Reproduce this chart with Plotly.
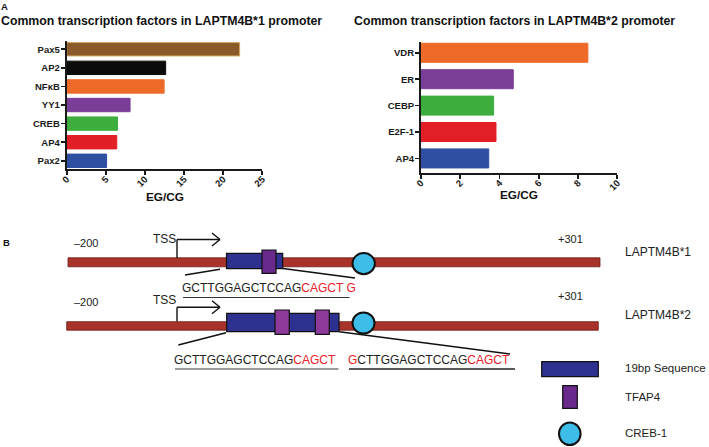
import plotly.graph_objects as go

W, H = 709, 447

# panel A: EG/CG ratios
tf_star1 = ["Pax5", "AP2", "NFκB", "YY1", "CREB", "AP4", "Pax2"]
egcg_star1 = [22.1, 12.65, 12.45, 8.1, 6.5, 6.4, 5.1]
ticks_star1 = [0, 5, 10, 15, 20, 25]

tf_star2 = ["VDR", "ER", "CEBP", "E2F-1", "AP4"]
egcg_star2 = [8.5, 4.7, 3.7, 3.82, 3.45]
ticks_star2 = [0, 2, 4, 6, 8, 10]

# panel B: sequence labels
seq_row1 = "GCTTGGAGCTCCAG"
seq_row1_red = "CAGCT G"
seq_unit = "GCTTGGAGCTCCAG"
seq_unit_red = "CAGCT"
legend_labels = ["19bp Sequence", "TFAP4", "CREB-1"]

ORANGE, PURPLE, GREEN, RED, BLUE = "#ee6a28", "#7a3e98", "#3dae3e", "#e21f26", "#2e4fa2"
colors_star1 = ["#8b5a2b", "#0b0b0b", ORANGE, PURPLE, GREEN, RED, BLUE]
edges_star1 = ["#d4a862", "#0b0b0b", ORANGE, PURPLE, GREEN, RED, BLUE]
colors_star2 = [ORANGE, PURPLE, GREEN, RED, BLUE]

FONT = "Liberation Sans, Arial, sans-serif"
AXC = "#1a1a1a"
SEQ_RED = "#e8202a"
GENE = "#a9322a"
BOX_BLUE = "#2e318f"
BOX_PURPLE = "#6a2a8c"
BOX_PURPLE2 = "#8d3a9b"
CREB = "#3dbde8"

fig = go.Figure()
fig.add_trace(go.Bar(x=egcg_star1, y=tf_star1, orientation="h",
                     marker=dict(color=colors_star1, line=dict(color=edges_star1, width=1)),
                     xaxis="x", yaxis="y", showlegend=False, hoverinfo="skip"))
fig.add_trace(go.Bar(x=egcg_star2, y=tf_star2, orientation="h",
                     marker=dict(color=colors_star2, line=dict(color=colors_star2, width=1)),
                     xaxis="x2", yaxis="y2", showlegend=False, hoverinfo="skip"))


# the schematic is laid out in page pixels; these convert to paper fractions
def px_x(v):
    return v / W


def px_y(v):
    return 1 - v / H


axis_common = dict(showgrid=False, zeroline=False, showline=True, linecolor=AXC, linewidth=2,
                   ticks="outside", ticklen=4, tickwidth=1.6, tickcolor=AXC, automargin=False,
                   tickfont=dict(family=FONT, size=9.5, color=AXC, weight="bold"))

fig.update_layout(
    width=W, height=H, margin=dict(l=0, r=0, t=0, b=0, pad=0), autosize=False,
    paper_bgcolor="white", plot_bgcolor="white", bargap=0.28, showlegend=False,
    xaxis=dict(domain=[px_x(66.7), px_x(262.3)], range=[0, 25], tickvals=ticks_star1,
               tickangle=-45, ticklabelstandoff=-5, anchor="y", **axis_common),
    yaxis=dict(domain=[px_y(169), px_y(40.7)], range=[6.44, -0.46], anchor="x",
               ticklabelstandoff=-1, **axis_common),
    xaxis2=dict(domain=[px_x(421), px_x(617.3)], range=[0, 10], tickvals=ticks_star2,
                tickangle=-45, ticklabelstandoff=-5, anchor="y2", **axis_common),
    yaxis2=dict(domain=[px_y(172.7), px_y(41.7)], range=[4.54, -0.42], anchor="x2",
                ticklabelstandoff=-1, **axis_common),
)

shapes = []
ann = []


def rect(x0, y0, x1, y1, fill, line="#111111", lw=1.2):
    shapes.append(dict(type="rect", xref="paper", yref="paper", x0=px_x(x0), y0=px_y(y0),
                       x1=px_x(x1), y1=px_y(y1), fillcolor=fill, line=dict(color=line, width=lw)))


def circ(cx, cy, rx, ry):
    shapes.append(dict(type="circle", xref="paper", yref="paper", x0=px_x(cx - rx), y0=px_y(cy - ry),
                       x1=px_x(cx + rx), y1=px_y(cy + ry), fillcolor=CREB,
                       line=dict(color="#111111", width=2)))


def seg(x0, y0, x1, y1, color="#111111", lw=1.6):
    shapes.append(dict(type="line", xref="paper", yref="paper", x0=px_x(x0), y0=px_y(y0),
                       x1=px_x(x1), y1=px_y(y1), line=dict(color=color, width=lw)))


def polyline(pts, lw=1.4):
    for (xa, ya), (xb, yb) in zip(pts[:-1], pts[1:]):
        seg(xa, ya, xb, yb, lw=lw)


def text(x, y, s, size=12, anchor="left", bold=False, color="#222222"):
    ann.append(dict(xref="paper", yref="paper", x=px_x(x), y=px_y(y), text=s, showarrow=False,
                    xanchor=anchor, yanchor="middle", borderpad=0, borderwidth=0,
                    font=dict(family=FONT, size=size, color=color,
                              weight="bold" if bold else "normal")))


# panel letters, titles, axis titles
text(1, 6.5, "A", size=9.5, bold=True, color="#111111")
text(1, 21.5, "Common transcription factors in LAPTM4B*1 promoter", size=12.3, bold=True, color="#111111")
text(354, 21.5, "Common transcription factors in LAPTM4B*2 promoter", size=12.3, bold=True, color="#111111")
text(164.5, 197, "EG/CG", size=11.8, anchor="center", bold=True, color="#111111")
text(519, 194.5, "EG/CG", size=11.8, anchor="center", bold=True, color="#111111")
text(2.5, 242.5, "B", size=9.5, bold=True, color="#111111")

# row 1 : LAPTM4B*1
rect(68, 257.8, 600, 266.8, GENE, line="#6a1c16", lw=0.8)
polyline([(177, 258), (177, 239.5), (220, 239.5)])
polyline([(212, 233), (220, 239.5), (212, 246)])
rect(226.5, 253.3, 282.7, 268.6, BOX_BLUE)
rect(262, 250, 276, 273.4, BOX_PURPLE)
circ(363.7, 263.6, 11.2, 10.6)
seg(220, 269.3, 185, 275)
seg(283, 268.5, 355, 278)
text(86, 242.7, "\u2013200", size=11, anchor="center")
text(176, 239, "TSS", size=12, anchor="right")
text(570.5, 238.8, "+301", size=11, anchor="center")
text(625, 251.7, "LAPTM4B*1", size=12)
text(182, 288.3, seq_row1 + "<span style='color:%s'>%s</span>" % (SEQ_RED, seq_row1_red), size=12)
seg(183, 297.5, 349.5, 297.5, color="#333333", lw=1.2)

# row 2 : LAPTM4B*2
rect(66.7, 321.7, 598.3, 330.2, GENE, line="#6a1c16", lw=0.8)
polyline([(177, 321.5), (177, 307.3), (220, 307.3)])
polyline([(212, 300.8), (220, 307.3), (212, 313.8)])
rect(226.7, 313.4, 339, 331.6, BOX_BLUE)
rect(275, 310, 289.3, 334.3, BOX_PURPLE2)
rect(315.3, 310, 329.3, 334.3, BOX_PURPLE2)
circ(363.5, 323, 11, 10.6)
seg(226, 332.7, 178.3, 345)
seg(339.3, 331.7, 510, 354)
text(86, 301.5, "\u2013200", size=11, anchor="center")
text(176, 300, "TSS", size=12, anchor="right")
text(570.5, 296, "+301", size=11, anchor="center")
text(625, 315.3, "LAPTM4B*2", size=12)
text(174, 360, seq_unit + "<span style='color:%s'>%s</span>" % (SEQ_RED, seq_unit_red), size=12)
text(348, 360, "<span style='color:%s'>G</span>" % SEQ_RED + seq_unit[1:]
     + "<span style='color:%s'>%s</span>" % (SEQ_RED, seq_unit_red), size=12)
seg(175, 369, 338.5, 369, color="#7a7a7a", lw=1.6)
seg(349, 369, 515, 369, color="#222222", lw=1.4)

# legend of the schematic
rect(541.7, 361.7, 598.3, 376.7, BOX_BLUE)
rect(562.7, 385.7, 577.3, 408.3, BOX_PURPLE)
circ(569.8, 433.7, 10.8, 11.3)
for y, lab in zip([368.3, 396.7, 433.3], legend_labels):
    text(625, y, lab, size=11.5)

fig.update_layout(shapes=shapes, annotations=ann)
# page margin off so the 709x447 figure fills the window exactly
fig.write_html("out.html", config={"displayModeBar": False, "staticPlot": True},
               post_script="document.body.style.margin='0';document.body.style.overflow='hidden';")
